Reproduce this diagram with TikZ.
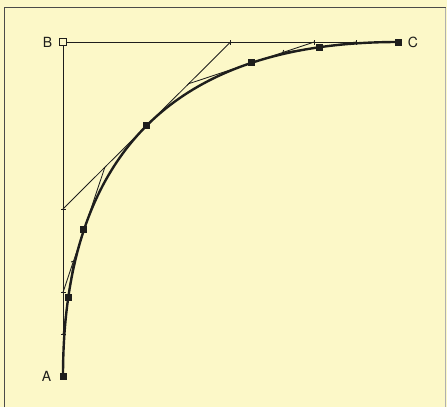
\documentclass[tikz,border=0pt]{standalone}
\usepackage{fontspec}
\setmainfont{TeX Gyre Heros}
\usetikzlibrary{calc,positioning}
\definecolor{paper}{RGB}{252,248,200}
\definecolor{ink}{RGB}{30,30,28}
\tikzset{
  thinline/.style={ink,line width=0.85pt},
  curveline/.style={ink,line width=2.4pt},
  knot/.style={rectangle,fill=ink,inner sep=0pt,minimum size=7pt},
  ctrl/.style={rectangle,draw=ink,fill=paper,line width=0.8pt,inner sep=0pt,minimum size=6.5pt},
  lbl/.style={inner sep=0pt,text=ink,font=\fontsize{14}{16}\selectfont}
}
\newcommand{\tickat}[2]{\draw[thinline] (#1) ++(#2:2.5) -- ++(#2+180:5);}
\begin{document}
\begin{tikzpicture}[x=1pt,y=-1pt]
  \useasboundingbox (0,0) rectangle (447,407);
  \fill[paper] (0,0) rectangle (447,407);
  \draw[ink!80,line width=1.2pt] (4.5,407) -- (4.5,7.5) -- (445.5,7.5);
  \draw[ink!35,line width=0.8pt] (445.5,7.5) -- (445.5,407);
  \coordinate (A) at (63,376);
  \coordinate (B) at (63,42);
  \coordinate (C) at (398,42);
  \coordinate (P1) at ($(A)!0.5!(B)$);
  \coordinate (P2) at ($(B)!0.5!(C)$);
  \coordinate (M) at ($(P1)!0.5!(P2)$);
  \coordinate (Q1) at ($(A)!0.5!(P1)$);
  \coordinate (Q2) at ($(P1)!0.5!(M)$);
  \coordinate (T2) at ($(Q1)!0.5!(Q2)$);
  \coordinate (S1) at ($(A)!0.5!(Q1)$);
  \coordinate (S2) at ($(Q1)!0.5!(T2)$);
  \coordinate (T1) at ($(S1)!0.5!(S2)$);
  \coordinate (R1) at ($(M)!0.5!(P2)$);
  \coordinate (R2) at ($(P2)!0.5!(C)$);
  \coordinate (T3) at ($(R1)!0.5!(R2)$);
  \coordinate (U1) at ($(T3)!0.5!(R2)$);
  \coordinate (U2) at ($(R2)!0.5!(C)$);
  \coordinate (T4) at ($(U1)!0.5!(U2)$);

  \draw[thinline] (A) -- (B) -- (C);
  \draw[thinline] (P1) -- (P2);
  \draw[thinline] (Q1) -- (Q2);
  \draw[thinline] (R1) -- (R2);
  \draw[thinline] (S1) -- (S2);
  \draw[thinline] (U1) -- (U2);
  \tickat{P1}{0}
  \tickat{Q1}{0}
  \tickat{S1}{0}
  \tickat{P2}{90}
  \tickat{R2}{90}
  \tickat{U2}{90}
  \tickat{Q2}{135}
  \tickat{R1}{135}
  \tickat{S2}{-18}
  \tickat{U1}{108}

  \draw[curveline] (A) .. controls ($(A)!2/3!(B)$) and ($(C)!2/3!(B)$) .. (C);

  \node[knot] (kA) at (A) {};
  \node[ctrl] (kB) at (B) {};
  \node[knot] (kC) at (C) {};
  \node[knot] (k1) at (T1) {};
  \node[knot] (k2) at (T2) {};
  \node[knot] (kM) at (M) {};
  \node[knot] (k3) at (T3) {};
  \node[knot] (k4) at (T4) {};
  \node[lbl,left=8pt of kA] (labA) {A};
  \node[lbl,left=7pt of kB] (labB) {B};
  \node[lbl,right=6pt of kC] (labC) {C};
\end{tikzpicture}
\end{document}
